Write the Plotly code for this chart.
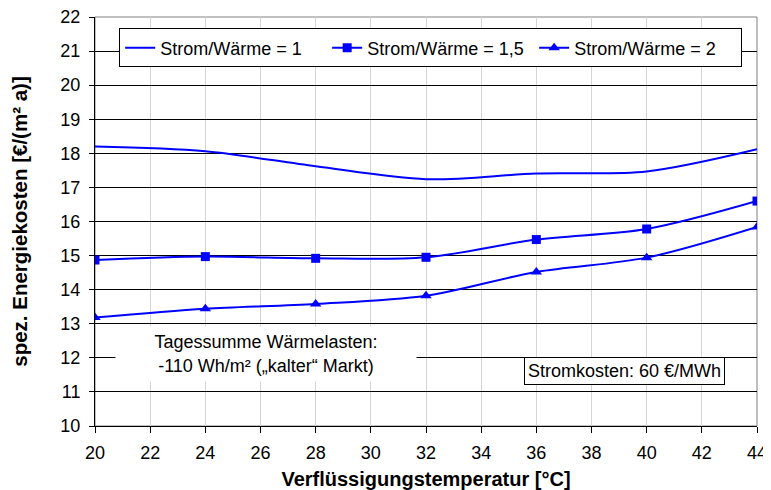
import plotly.graph_objects as go

temps = [20, 24, 28, 32, 36, 40, 44]
ratio_1 = [18.20, 18.06, 17.62, 17.24, 17.41, 17.47, 18.12]
ratio_15 = [14.87, 14.97, 14.92, 14.95, 15.47, 15.78, 16.60]
ratio_2 = [13.18, 13.44, 13.58, 13.82, 14.52, 14.94, 15.84]
names = ["Strom/Wärme = 1", "Strom/Wärme = 1,5", "Strom/Wärme = 2"]
x_ticks = list(range(20, 45, 2))
y_ticks = list(range(10, 23, 1))

FONT = "Arial, Liberation Sans, sans-serif"
BLUE = "#0000ff"
FS = 18

fig = go.Figure()
fig.add_trace(go.Scatter(x=temps, y=ratio_1, name=names[0], mode="lines",
                         line=dict(color=BLUE, width=2, shape="spline", smoothing=0.9)))
fig.add_trace(go.Scatter(x=temps, y=ratio_15, name=names[1], mode="lines+markers",
                         line=dict(color=BLUE, width=2, shape="spline", smoothing=0.9),
                         marker=dict(symbol="square", size=9, color=BLUE)))
fig.add_trace(go.Scatter(x=temps, y=ratio_2, name=names[2], mode="lines+markers",
                         line=dict(color=BLUE, width=2, shape="spline", smoothing=0.9),
                         marker=dict(symbol="triangle-up", size=10, color=BLUE)))

# page body has an 8px margin: figure is sized/offset to compensate
fig.update_layout(
    width=763, height=482,
    margin=dict(l=87, r=14, t=9, b=64),
    paper_bgcolor="white", plot_bgcolor="white",
    font=dict(family=FONT, size=FS, color="black"),
    showlegend=True,
    legend=dict(orientation="h", x=0.0365, y=0.972, xanchor="left", yanchor="top",
                bgcolor="white", bordercolor="black", borderwidth=1,
                font=dict(family=FONT, size=FS, color="black"),
                entrywidth=162, entrywidthmode="pixels",
                itemwidth=30, tracegroupgap=0),
    xaxis=dict(range=[20, 44], tickvals=x_ticks, ticktext=[str(v) for v in x_ticks],
               showgrid=True, gridcolor="#d4d4d4", gridwidth=1,
               showline=True, linecolor="black", linewidth=1,
               ticks="outside", ticklen=6, tickcolor="black",
               tickfont=dict(family=FONT, size=FS), ticklabelstandoff=4,
               ticklabeloverflow="allow",
               zeroline=False, automargin=False,
               title=dict(text="<b>Verflüssigungstemperatur [°C]</b>",
                          font=dict(family=FONT, size=20), standoff=10)),
    yaxis=dict(range=[10, 22], tickvals=y_ticks, ticktext=[str(v) for v in y_ticks],
               showgrid=True, gridcolor="black", gridwidth=1,
               showline=True, linecolor="black", linewidth=1,
               ticks="outside", ticklen=5, tickcolor="black",
               tickfont=dict(family=FONT, size=FS), ticklabelstandoff=5,
               ticklabeloverflow="allow",
               zeroline=False, automargin=False,
               title=dict(text="<b>spez. Energiekosten [€/(m² a)]</b>",
                          font=dict(family=FONT, size=20.5), standoff=30)),
    shapes=[dict(type="rect", xref="paper", yref="paper", x0=0, x1=1, y0=0, y1=1,
                 line=dict(color="#808080", width=1), fillcolor="rgba(0,0,0,0)",
                 layer="between")],
    annotations=[
        dict(x=26.2, y=12.12, xref="x", yref="y", xanchor="center", yanchor="middle",
             text="Tagessumme Wärmelasten:<br>-110 Wh/m² („kalter“ Markt)",
             showarrow=False, align="center", bgcolor="white", width=298, height=52,
             font=dict(family=FONT, size=FS, color="black")),
        dict(x=39.2, y=11.62, xref="x", yref="y", xanchor="center", yanchor="middle",
             text="Stromkosten: 60 €/MWh", showarrow=False, bgcolor="white",
             bordercolor="black", borderwidth=1, borderpad=3,
             font=dict(family=FONT, size=FS, color="black")),
    ],
)

fig.write_html("out.html")
